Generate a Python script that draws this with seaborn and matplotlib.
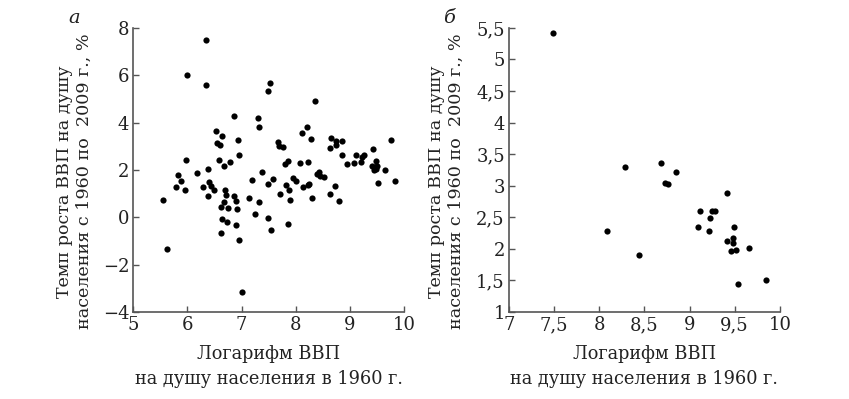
import matplotlib
matplotlib.use("Agg")
import matplotlib.pyplot as plt
import seaborn as sns

# панель а: все страны
x_a = [6.35, 5.99, 6.35, 7.52, 7.48, 8.35, 6.86, 7.30, 7.32, 8.21,
       8.12, 8.28, 6.52, 6.63, 6.55, 6.60, 6.93, 6.95, 7.68, 7.69,
       7.76, 8.65, 8.74, 8.85, 8.74, 8.64, 9.76, 9.42, 8.85, 9.12,
       9.22, 9.26, 5.98, 6.58, 7.86, 8.23, 9.48, 6.68, 6.79, 6.37,
       6.17, 5.83, 5.88, 5.79, 5.95, 5.54, 5.63, 6.28, 6.40, 6.43,
       6.49, 6.37, 6.69, 6.71, 6.68, 6.85, 6.89, 6.62, 6.74, 6.92,
       6.63, 6.73, 6.89, 6.61, 6.96, 7.00, 7.19, 7.13, 7.32, 7.25,
       7.38, 7.49, 7.58, 7.49, 7.54, 7.71, 7.81, 7.88, 7.90, 7.85,
       7.80, 7.94, 8.00, 8.08, 8.13, 8.23, 8.25, 8.30, 8.39, 8.43,
       8.45, 8.52, 8.64, 8.73, 8.79, 8.94, 9.08, 9.21, 9.41, 9.46,
       9.50, 9.44, 9.49, 9.64, 9.52, 9.84]
y_a = [7.47, 6.03, 5.60, 5.66, 5.35, 4.91, 4.28, 4.18, 3.82, 3.82,
       3.56, 3.31, 3.66, 3.42, 3.13, 3.07, 3.25, 2.65, 3.17, 3.00,
       2.96, 3.35, 3.21, 3.22, 3.04, 2.93, 3.27, 2.90, 2.62, 2.62,
       2.55, 2.62, 2.43, 2.43, 2.37, 2.35, 2.38, 2.15, 2.32, 2.04,
       1.87, 1.77, 1.53, 1.30, 1.17, 0.75, -1.35, 1.27, 1.48, 1.34,
       1.17, 0.89, 1.17, 0.93, 0.66, 0.90, 0.68, 0.42, 0.39, 0.37,
       -0.07, -0.21, -0.34, -0.66, -0.97, -3.16, 1.59, 0.82, 0.65, 0.13,
       1.93, 1.42, 1.61, -0.01, -0.52, 1.00, 1.37, 1.15, 0.72, -0.27,
       2.27, 1.65, 1.52, 2.29, 1.28, 1.38, 1.41, 0.83, 1.82, 1.91,
       1.74, 1.70, 0.98, 1.34, 0.68, 2.25, 2.31, 2.32, 2.15, 2.13,
       2.17, 1.99, 2.03, 2.02, 1.45, 1.52]

# панель б
x_b = [7.49, 8.29, 8.68, 8.85, 8.73, 8.76, 9.42, 9.12, 9.25, 9.28,
       9.23, 9.09, 9.22, 9.49, 8.09, 9.48, 9.48, 9.41, 9.46, 9.51,
       9.66, 8.44, 9.54, 9.85]
y_b = [5.42, 3.30, 3.36, 3.21, 3.04, 3.02, 2.88, 2.60, 2.60, 2.60,
       2.49, 2.34, 2.29, 2.35, 2.29, 2.17, 2.10, 2.13, 1.97, 1.99,
       2.01, 1.90, 1.45, 1.51]

xticks_a = [5, 6, 7, 8, 9, 10]
yticks_a = [-4, -2, 0, 2, 4, 6, 8]
xticks_b = [7, 7.5, 8, 8.5, 9, 9.5, 10]
yticks_b = [1, 1.5, 2, 2.5, 3, 3.5, 4, 4.5, 5, 5.5]

ylab = "Темп роста ВВП на душу\nнаселения с 1960 по  2009 г., %"
xlab = "Логарифм ВВП\nна душу населения в 1960 г."

sns.set_style("ticks")
plt.rcParams['font.family'] = ['DejaVu Serif']
plt.rcParams['text.color'] = '#222222'
plt.rcParams['axes.labelcolor'] = '#222222'
plt.rcParams['xtick.color'] = '#555555'
plt.rcParams['ytick.color'] = '#555555'
plt.rcParams['xtick.labelcolor'] = '#222222'
plt.rcParams['ytick.labelcolor'] = '#222222'

def comma(v):
  s = f"{abs(v):g}".replace('.', ',')
  return s if v >= 0 else '\u2212' + s

fig = plt.figure(figsize=(8.49, 3.99), dpi=100)
ax1 = fig.add_axes([0.157, 0.218, 0.319, 0.712])
ax2 = fig.add_axes([0.5995, 0.218, 0.319, 0.712])

for ax, xs, ys, xt, yt, letter, lx in [(ax1, x_a, y_a, xticks_a, yticks_a, 'а', -0.148),
                                       (ax2, x_b, y_b, xticks_b, yticks_b, 'б', -0.162)]:
  sns.scatterplot(x=xs, y=ys, ax=ax, color='black', s=20, linewidth=0)
  ax.set_xlim(xt[0], xt[-1])
  ax.set_ylim(yt[0], yt[-1])
  ax.set_xticks(xt)
  ax.set_yticks(yt)
  ax.set_xticklabels([comma(v) for v in xt])
  ax.set_yticklabels([comma(v) for v in yt])
  ax.tick_params(direction='in', length=4, width=1, pad=3, labelsize=13)
  for side in ['top', 'right']:
    ax.spines[side].set_visible(False)
  for side in ['left', 'bottom']:
    ax.spines[side].set_color('#555555')
    ax.spines[side].set_linewidth(1.2)
  ax.set_xlabel(xlab, fontsize=12.8, linespacing=1.45, labelpad=8)
  ax.set_ylabel(ylab, fontsize=12.6, linespacing=1.25)
  ax.yaxis.set_label_coords(lx, 0.46)
  ax.text(-0.22, 1.035, letter, transform=ax.transAxes,
          fontsize=14, style='italic', ha='center', va='center')

plt.savefig('out.png', dpi=100)
